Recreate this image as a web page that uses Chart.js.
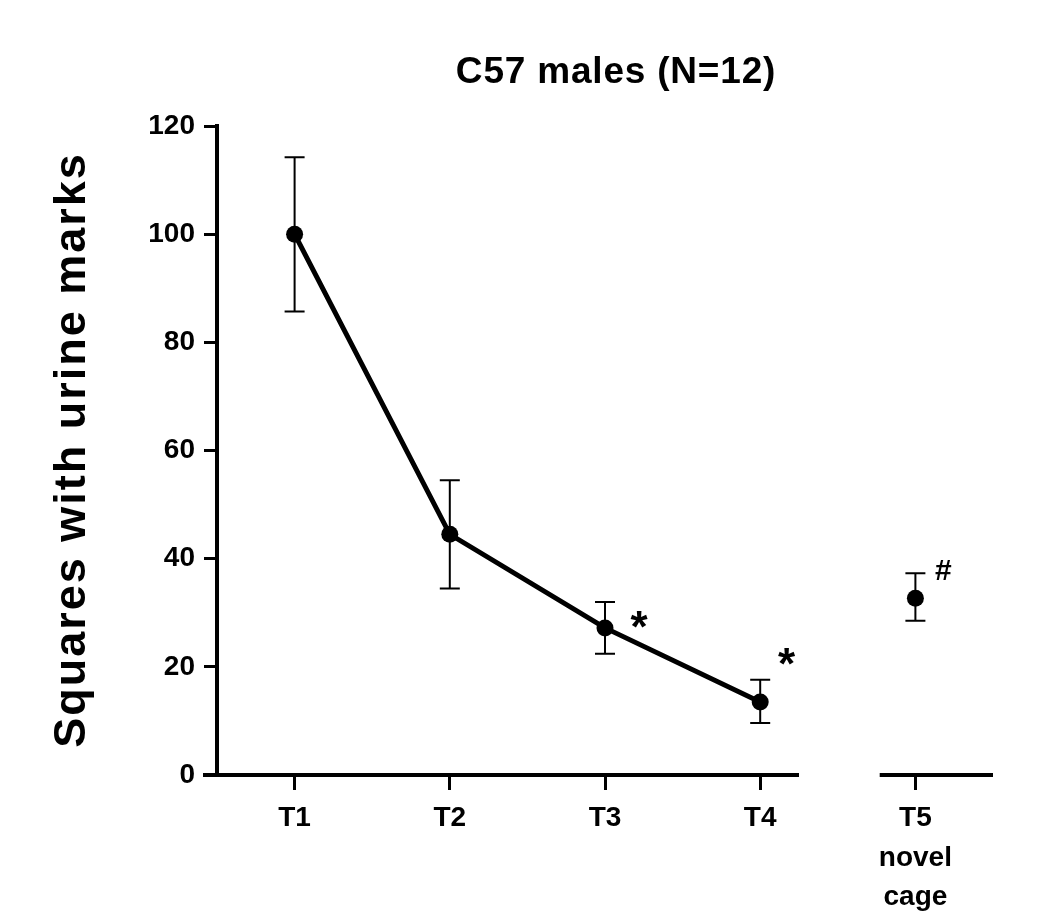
<!DOCTYPE html>
<html>
<head>
<meta charset="utf-8">
<script src="https://cdn.jsdelivr.net/npm/chart.js@4"></script>
<style>
  html, body { margin: 0; padding: 0; background: #fff; }
  canvas { display: block; }
</style>
</head>
<body>
<canvas id="urineChart" width="1050" height="918"></canvas>
<script>
// data
const trials = ['T1', 'T2', 'T3', 'T4', 'T5'];
const tickLabels = ['T1', 'T2', 'T3', 'T4', ['T5', 'novel', 'cage']];
const homeCage = [100, 44.5, 27.2, 13.5, null];
const novelCage = [null, null, null, null, 32.7];
const errHigh = [114.2, 54.5, 32.0, 17.6, 37.3];
const errLow = [85.7, 34.5, 22.4, 9.6, 28.5];
const yTicks = [0, 20, 40, 60, 80, 100, 120];

// significance marks: position on the trial axis, y value, symbol
const markX = [2.22, 3.17, 4.18];
const markY = [26.8, 20.0, 37.5];
const markText = ['*', '*', '#'];

const titleText = 'C57 males (N=12)';
const yTitleText = 'Squares with urine marks';

const FONT = '"Liberation Sans", Arial, sans-serif';

const extras = {
  id: 'extras',
  beforeDatasetsDraw(chart) {
    const ctx = chart.ctx;
    const x = chart.scales.x, y = chart.scales.y;
    ctx.save();
    ctx.strokeStyle = '#000';
    ctx.lineWidth = 2;
    trials.forEach((t, i) => {
      const px = x.getPixelForValue(i);
      const top = y.getPixelForValue(errHigh[i]);
      const bot = y.getPixelForValue(errLow[i]);
      ctx.beginPath();
      ctx.moveTo(px, top); ctx.lineTo(px, bot);
      ctx.moveTo(px - 10, top); ctx.lineTo(px + 10, top);
      ctx.moveTo(px - 10, bot); ctx.lineTo(px + 10, bot);
      ctx.stroke();
    });
    ctx.restore();
  },
  afterDraw(chart) {
    const ctx = chart.ctx;
    const x = chart.scales.x, y = chart.scales.y;
    const area = chart.chartArea;
    const y0 = y.getPixelForValue(0);

    // broken x axis
    ctx.save();
    ctx.strokeStyle = '#000';
    ctx.lineWidth = 4;
    ctx.beginPath();
    ctx.moveTo(area.left - 14, y0);
    ctx.lineTo(x.getPixelForValue(3.25), y0);
    ctx.moveTo(x.getPixelForValue(3.77), y0);
    ctx.lineTo(area.right, y0);
    ctx.stroke();

    // * and # marks
    ctx.fillStyle = '#000';
    ctx.textAlign = 'center';
    ctx.textBaseline = 'middle';
    markText.forEach((m, i) => {
      ctx.font = (m === '#' ? 'bold 30px ' : 'bold 44px ') + FONT;
      ctx.fillText(m, x.getPixelForValue(markX[i]), y.getPixelForValue(markY[i]));
    });

    // chart title
    ctx.font = 'bold 37px ' + FONT;
    ctx.textBaseline = 'alphabetic';
    if ('letterSpacing' in ctx) ctx.letterSpacing = '0.8px';
    ctx.fillText(titleText, 616, 83);

    // y axis title
    ctx.font = 'bold 45px ' + FONT;
    if ('letterSpacing' in ctx) ctx.letterSpacing = '2px';
    ctx.translate(85, 450);
    ctx.rotate(-Math.PI / 2);
    ctx.fillText(yTitleText, 0, 0);
    ctx.restore();
  }
};

new Chart(document.getElementById('urineChart'), {
  type: 'line',
  data: {
    labels: trials,
    datasets: [
      {
        label: 'Home cage',
        data: homeCage,
        borderColor: '#000',
        borderWidth: 5,
        pointRadius: 8.5,
        pointBackgroundColor: '#000',
        pointBorderWidth: 0,
        spanGaps: false
      },
      {
        label: 'Novel cage',
        data: novelCage,
        showLine: false,
        pointRadius: 8.5,
        pointBackgroundColor: '#000',
        pointBorderWidth: 0
      }
    ]
  },
  options: {
    responsive: false,
    animation: false,
    layout: { padding: { top: 126, right: 57, bottom: 0, left: 0 } },
    plugins: {
      legend: { display: false },
      tooltip: { enabled: false },
      title: { display: false }
    },
    scales: {
      x: {
        type: 'category',
        offset: true,
        grid: { drawOnChartArea: false, offset: false, tickLength: 15, tickWidth: 3, tickColor: '#000' },
        border: { display: false },
        ticks: {
          color: '#000',
          font: { family: FONT, size: 28, weight: 'bold', lineHeight: 1.4 },
          padding: 9,
          maxRotation: 0,
          autoSkip: false,
          callback: (v, i) => tickLabels[i]
        },
        afterFit: scale => { scale.height = 143; }
      },
      y: {
        min: 0,
        max: 120,
        grid: { drawOnChartArea: false, tickLength: 13, tickWidth: 3, tickColor: '#000' },
        border: { color: '#000', width: 4 },
        ticks: {
          color: '#000',
          font: { family: FONT, size: 28, weight: 'bold' },
          padding: 9
        },
        afterBuildTicks: scale => { scale.ticks = yTicks.map(v => ({ value: v })); },
        afterFit: scale => { scale.width = 217; }
      }
    }
  },
  plugins: [extras]
});
</script>
</body>
</html>
